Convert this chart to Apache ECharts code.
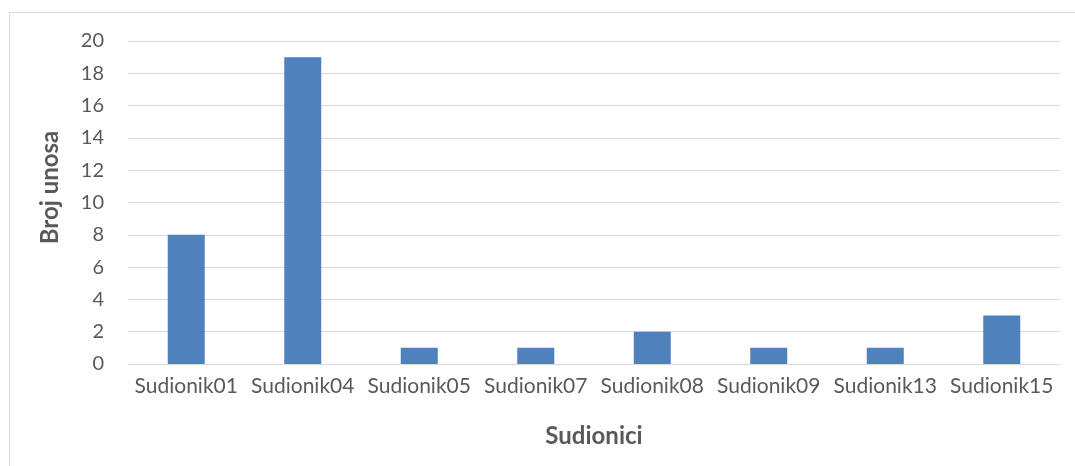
<!DOCTYPE html>
<html><head><meta charset="utf-8">
<script src="https://cdn.jsdelivr.net/npm/echarts@6/dist/echarts.min.js"></script>
<style>html,body{margin:0;padding:0;background:#fff}#c{width:1075px;height:466px}</style>
</head><body><div id="c"></div>
<script>
const categories = ['Sudionik01','Sudionik04','Sudionik05','Sudionik07','Sudionik08','Sudionik09','Sudionik13','Sudionik15'];
const values = [8, 19, 1, 1, 2, 1, 1, 3];
const yTicks = {min: 0, max: 20, interval: 2};
const font = 'Lato';
const chart = echarts.init(document.getElementById('c'), null, {renderer: 'canvas'});
chart.setOption({
  animation: false,
  textStyle: {fontFamily: font},
  graphic: [{type: 'rect', shape: {x: 9.5, y: 12.5, width: 1100, height: 500}, style: {fill: 'none', stroke: '#d9d9d9', lineWidth: 1}}],
  grid: {left: 128, right: 15, top: 41, bottom: 102},
  xAxis: {
    type: 'category', data: categories,
    axisLine: {show: true, lineStyle: {color: '#d9d9d9', width: 1}},
    axisTick: {show: false},
    axisLabel: {color: '#595959', fontSize: 21, fontFamily: font, margin: 12, interval: 0},
    name: 'Sudionici', nameLocation: 'middle', nameGap: 60,
    nameTextStyle: {color: '#595959', fontSize: 24, fontWeight: 'bold', fontFamily: font}
  },
  yAxis: {
    type: 'value', min: yTicks.min, max: yTicks.max, interval: yTicks.interval,
    axisLine: {show: false}, axisTick: {show: false},
    splitLine: {lineStyle: {color: '#d9d9d9', width: 1}},
    axisLabel: {color: '#595959', fontSize: 20, fontFamily: font, margin: 24},
    name: 'Broj unosa', nameLocation: 'middle', nameGap: 66, nameRotate: 90,
    nameTextStyle: {color: '#595959', fontSize: 24, fontWeight: 'bold', fontFamily: font, padding: [0, 0, 0, 30]}
  },
  series: [{type: 'bar', data: values, barWidth: 37, itemStyle: {color: '#4f81bd'}}]
});
</script></body></html>
